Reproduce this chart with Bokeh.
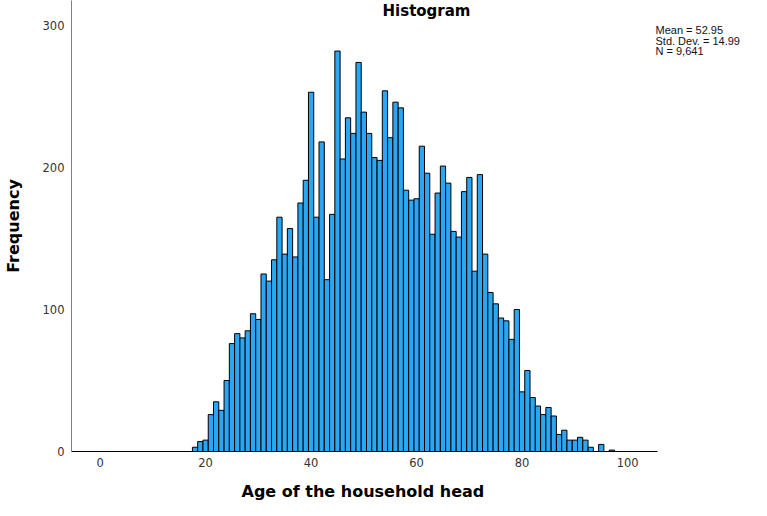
from bokeh.plotting import figure
from bokeh.models import Range1d, FixedTicker, Label, ColumnDataSource, Title
from bokeh.embed import file_html
from bokeh.resources import INLINE

# ---- data ----
ages = list(range(18, 98))
counts = [3, 7, 8, 26, 35, 29, 50, 76, 83, 80,          # 18-27
          85, 97, 93, 125, 120, 135, 165, 139, 157, 137,  # 28-37
          175, 191, 253, 165, 218, 121, 167, 282, 206, 235,  # 38-47
          224, 274, 239, 224, 207, 205, 254, 221, 246, 242,  # 48-57
          184, 177, 178, 215, 196, 153, 182, 201, 189, 155,  # 58-67
          151, 183, 193, 127, 195, 139, 112, 104, 94, 92,    # 68-77
          79, 100, 42, 57, 38, 32, 26, 31, 25, 12,           # 78-87
          15, 8, 8, 10, 8, 3, 0, 5, 0, 1]                    # 88-97
x_ticks = [0, 20, 40, 60, 80, 100]
y_ticks = [0, 100, 200, 300]
stat_lines = ["Mean = 52.95", "Std. Dev. = 14.99", "N = 9,641"]
title_text = "Histogram"
x_label = "Age of the household head"
y_label = "Frequency"

x_lo, x_hi = -5.42, 105.69   # extent of the drawn x axis
x_view_hi = 125.0             # frame extends right to hold the statistics text

src = ColumnDataSource(data=dict(age=ages, count=counts))

p = figure(frame_width=688, frame_height=451,
           output_backend="svg", toolbar_location=None,
           x_range=Range1d(x_lo, x_view_hi), y_range=Range1d(0, 317.6),
           min_border_left=63, min_border_right=0, min_border_top=0,
           min_border_bottom=0)
p.outline_line_color = None
p.background_fill_color = "white"
p.border_fill_color = "white"
p.xgrid.visible = False
p.ygrid.visible = False

p.vbar(x="age", top="count", bottom=0, width=1.0, source=src,
       fill_color="#2AA6F2", line_color="black", line_width=1)

for ax in (p.xaxis[0], p.yaxis[0]):
    ax.major_tick_out = 0
    ax.major_tick_in = 0
    ax.minor_tick_out = 0
    ax.minor_tick_in = 0
    ax.major_label_text_font = "DejaVu Sans"
    ax.major_label_text_font_size = "11.5px"
    ax.major_label_text_color = "#333333"
    ax.axis_label_text_font = "DejaVu Sans"
    ax.axis_label_text_font_size = "16px"
    ax.axis_label_text_font_style = "bold"
    ax.axis_label_text_color = "black"

p.xaxis.ticker = FixedTicker(ticks=x_ticks)
p.yaxis.ticker = FixedTicker(ticks=y_ticks)
p.xaxis.bounds = (x_lo, x_hi)
p.yaxis.axis_label = y_label
p.xaxis.axis_line_color = "black"
p.yaxis.axis_line_color = "#808080"
p.xaxis.major_label_standoff = 6
p.yaxis.major_label_standoff = 7
p.yaxis.axis_label_standoff = 17

# x-axis label as a bottom title, centred under the drawn axis
p.add_layout(Title(text=x_label, align="left", offset=170, standoff=20,
                   text_font="DejaVu Sans", text_font_size="16px",
                   text_font_style="bold", text_color="black"), "below")

# statistics text (canvas units: pixels from the canvas top-left)
stat_y = [29.3, 40.0, 50.0]
for txt, yy in zip(stat_lines, stat_y):
    p.add_layout(Label(x=655, y=yy, x_units="canvas", y_units="canvas",
                       text=txt, text_font="Liberation Sans",
                       text_font_size="11px", text_color="#111111",
                       text_baseline="middle", text_align="left"))

# title
p.add_layout(Label(x=426, y=1, x_units="canvas", y_units="canvas",
                   text=title_text, text_font="DejaVu Sans",
                   text_font_size="15px", text_font_style="bold",
                   text_color="black", text_align="center",
                   text_baseline="top"))

open("out.html", "w").write(file_html(p, INLINE))
